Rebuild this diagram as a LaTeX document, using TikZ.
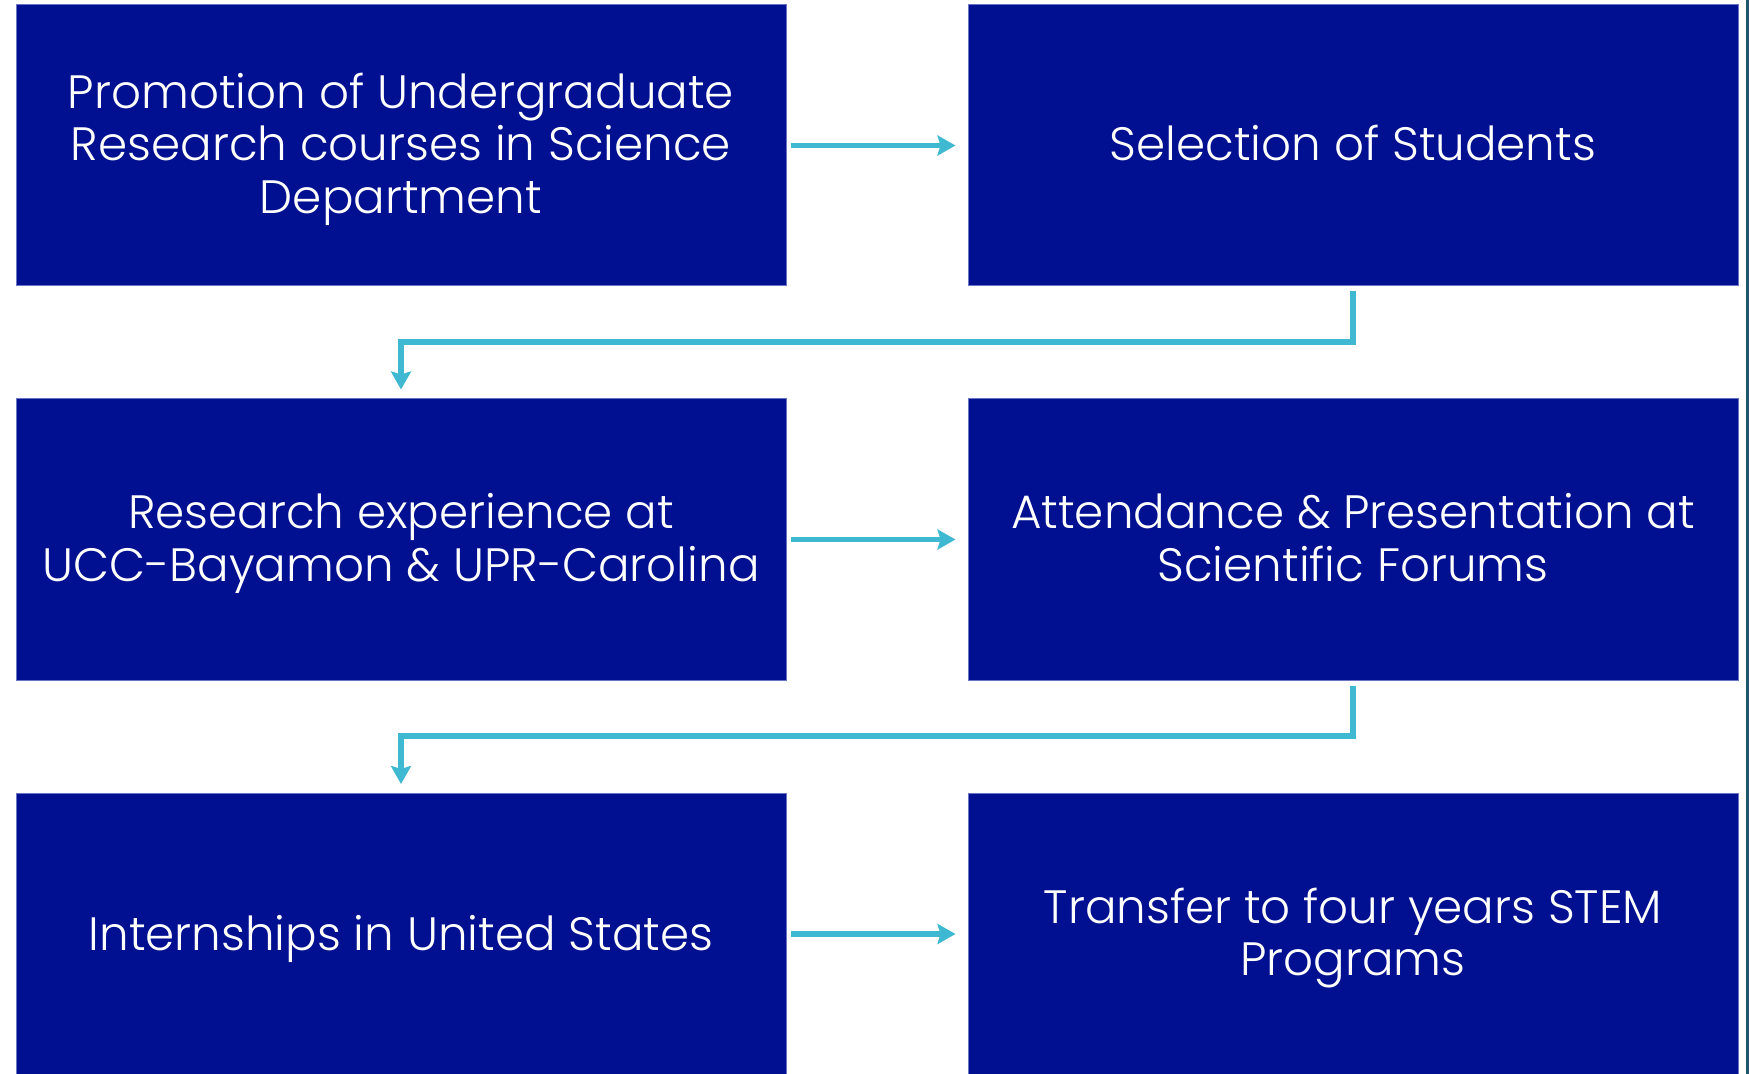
\documentclass[tikz,border=0pt]{standalone}
\usepackage{fontspec}
\setmainfont{Poppins}[UprightFont=* Light]
\usetikzlibrary{arrows.meta}
\definecolor{boxblue}{HTML}{001090}
\definecolor{boxedge}{HTML}{6A74C4}
\definecolor{arrowcol}{HTML}{3FB9D2}
\definecolor{stripcol}{HTML}{1E5A6E}
\tikzset{
  stepbox/.style={rectangle, fill=boxblue, draw=boxedge, line width=0.5pt,
    minimum width=385pt, minimum height=140.5pt, inner sep=0pt},
  boxtext/.style={inner sep=0pt, text=white, align=center,
    font=\fontsize{23.4}{26.2}\selectfont},
  flow/.style={draw=arrowcol, line width=2.6pt,
    -{Stealth[length=9pt,width=10pt,inset=1.5pt]}}
}
\begin{document}
\begin{tikzpicture}[x=0.5pt,y=-0.5pt]
\useasboundingbox[fill=white] (0,0) rectangle (1749,1074);
\clip (0,0) rectangle (1749,1074);
\fill[stripcol] (1746,0) rectangle (1749,1074);
\node[stepbox] (a) at (401,145.5) {};
\node[stepbox] (b) at (1353,145.5) {};
\node[stepbox] (c) at (401,539.5) {};
\node[stepbox] (d) at (1353,539.5) {};
\node[stepbox] (e) at (401,934) {};
\node[stepbox] (f) at (1353,934) {};
\node[boxtext] (ta) at ([yshift=-1.85pt]a.center) {Promotion of Undergraduate\\Research courses in Science\\Department};
\node[boxtext] (tb) at ([yshift=1.1pt]b.center) {Selection of Students};
\node[boxtext] (tc) at ([yshift=-2pt]c.center) {Research experience at\\UCC-Bayamon \& UPR-Carolina};
\node[boxtext] (td) at ([yshift=0.9pt]d.center) {Attendance \& Presentation at\\Scientific Forums};
\node[boxtext] (te) at ([yshift=-2.25pt]e.center) {Internships in United States};
\node[boxtext] (tf) at ([yshift=-2pt]f.center) {Transfer to four years STEM\\Programs};
% horizontal arrows
\draw[flow, shorten <=2pt, shorten >=6pt] (a.east) -- (b.west);
\draw[flow, shorten <=2pt, shorten >=6pt] (c.east) -- (d.west);
\draw[flow, shorten <=2pt, shorten >=6pt] (e.east) -- (f.west);
% elbow connectors
\coordinate (k1) at (1353,342);
\coordinate (k2) at (401,342);
\draw[flow, shorten <=2.5pt, shorten >=4.5pt] (b.south) -- (k1) -- (k2) -- (c.north);
\coordinate (k3) at (1353,736);
\coordinate (k4) at (401,736);
\draw[flow, shorten <=2.5pt, shorten >=4.5pt] (d.south) -- (k3) -- (k4) -- (e.north);
\end{tikzpicture}
\end{document}
